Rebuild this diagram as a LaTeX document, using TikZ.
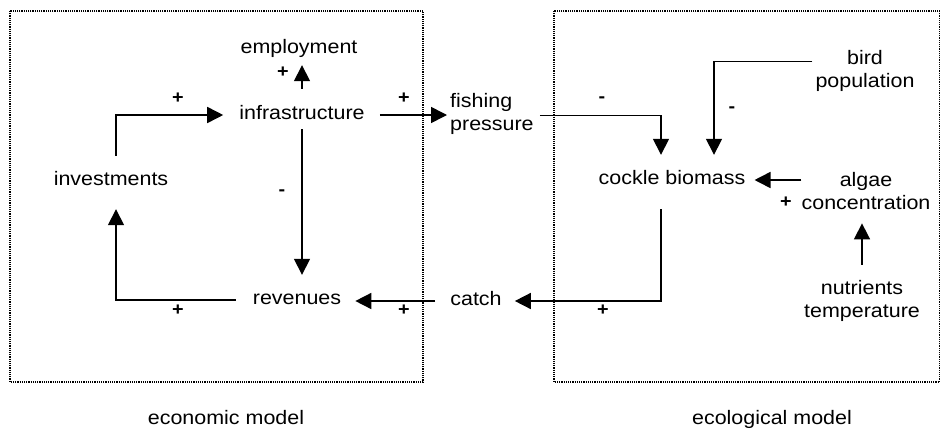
\documentclass[tikz,border=0pt]{standalone}
\usepackage{fontspec}
\setmainfont{Liberation Sans}[FakeStretch=1.1]
\usetikzlibrary{arrows.meta}
\begin{document}
\begin{tikzpicture}[x=1pt,y=-1pt,
  lbl/.style={inner sep=0pt, anchor=base, font=\fontsize{19.5}{23}\selectfont, text height=8pt, text depth=0pt},
  mlbl/.style={inner sep=0pt, anchor=base, font=\fontsize{19.5}{23}\selectfont},
  arr/.style={line width=1.6pt, -{Triangle[length=16pt,width=16pt]}},
  sign/.style={inner sep=0pt, font=\fontsize{18}{18}\selectfont\bfseries},
  box/.style={line width=1.3pt, dash pattern=on 1.2pt off 1pt}]
\path[use as bounding box, fill=white] (0,0) rectangle (941,429);
% boxes
\draw[box] (10,11) rectangle (423,382);
\draw[box] (554,11) rectangle (939.5,382);
% nodes
\node[lbl] (emp) at (299,53) {employment};
\node[lbl] (infra) at (302,119) {infrastructure};
\node[lbl] (inv) at (111,185) {investments};
\node[mlbl, anchor=base west, align=left] (fish) at (450,130) {fishing\\pressure};
\node[lbl] (rev) at (297,304) {revenues};
\node[lbl] (catch) at (476,305) {catch};
\node[lbl] (cockle) at (672,184) {cockle biomass};
\node[mlbl, align=center] (bird) at (865,87) {bird\\population};
\node[mlbl, align=center] (algae) at (866,209) {algae\\concentration};
\node[mlbl, align=center] (nutr) at (862,317) {nutrients\\temperature};
\node[lbl] (econ) at (226,424) {economic model};
\node[lbl] (ecol) at (772,424) {ecological model};
% connectors
\draw[arr, shorten <=21pt, shorten >=16pt] ([xshift=5pt]inv.north) |- (infra.west);
\draw[arr, shorten <=22pt, shorten >=12pt] (infra.north) -- (infra.north |- emp.south);
\draw[arr, shorten <=15pt, shorten >=3pt] (infra.east) -- (infra.east -| fish.west);
\draw[arr, shorten <=10pt, shorten >=21pt] (infra.south) -- (infra.south |- rev.north);
\draw[arr, shorten <=17pt, shorten >=24pt] (rev.west) -| ([xshift=5pt]inv.south);
\draw[arr, shorten <=15pt, shorten >=14pt] (catch.west) -- (catch.west -| rev.east);
\draw[arr, shorten <=6pt, shorten >=21pt] ([yshift=-2pt]fish.east) -| ([xshift=-11pt]cockle.north);
\draw[arr, shorten <=3pt, shorten >=21pt] ([yshift=9pt]bird.west) -| ([xshift=42pt]cockle.north);
\draw[arr, shorten >=9pt] (cockle.east -| algae.west) -- (cockle.east);
\draw[arr, shorten <=15pt, shorten >=14pt] (nutr.north) -- (nutr.north |- algae.south);
\draw[arr, shorten <=25pt, shorten >=13pt] ([xshift=-11pt]cockle.south) |- (catch.east);
% signs
\node[sign] (s1) at (283,72) {+};
\node[sign] (s2) at (178,98) {+};
\node[sign] (s3) at (404,98) {+};
\node[sign] (s4) at (282,193) {-};
\node[sign] (s5) at (178,310) {+};
\node[sign] (s6) at (404,310) {+};
\node[sign] (s7) at (602,100) {-};
\node[sign] (s8) at (732,110) {-};
\node[sign] (s9) at (786,202) {+};
\node[sign] (s10) at (603,310) {+};
\end{tikzpicture}
\end{document}
